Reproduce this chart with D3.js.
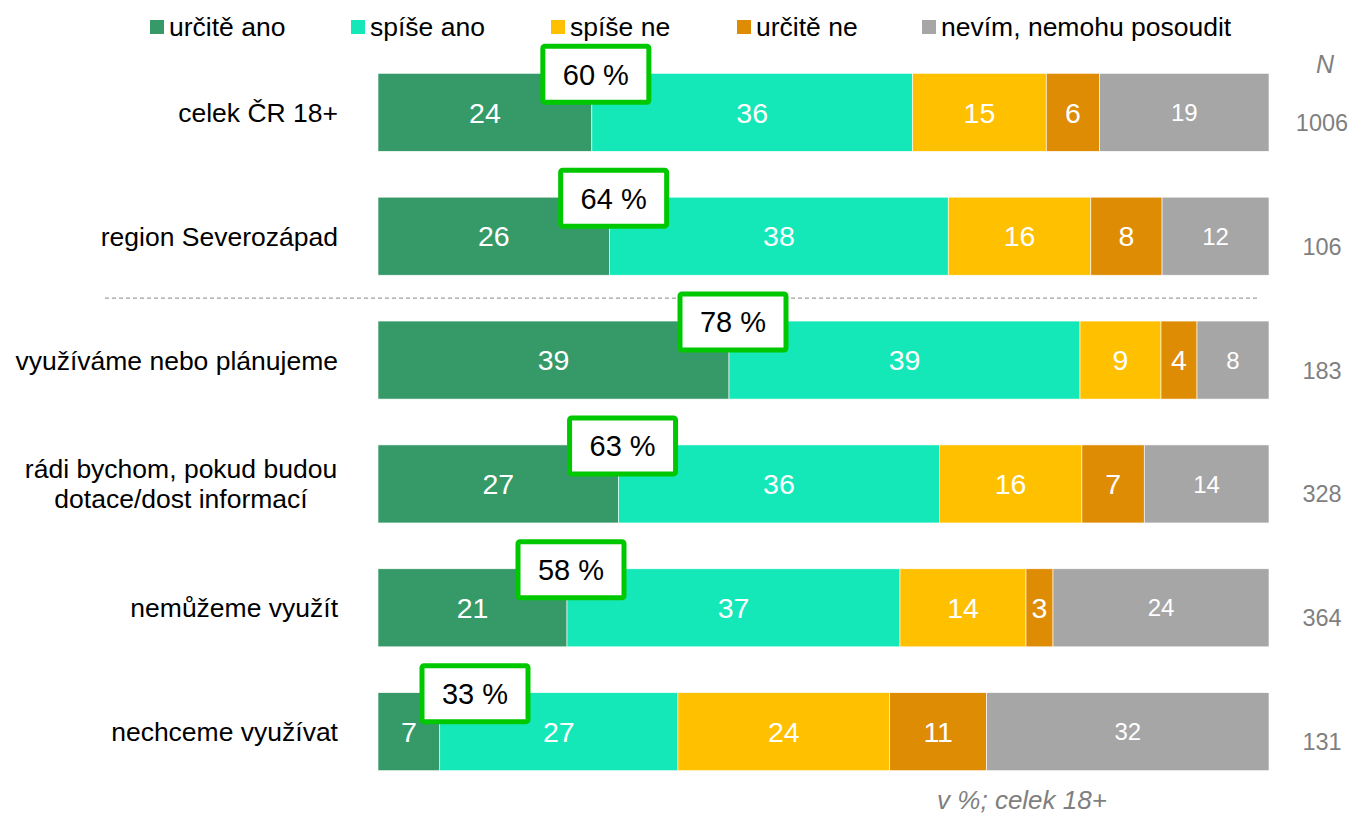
<!DOCTYPE html>
<html lang="cs">
<head>
<meta charset="UTF-8">
<title>Stacked bars</title>
<script src="https://d3js.org/d3.v7.min.js"></script>
<style>
  body { margin: 0; background: #fff; font-family: Arial, "Liberation Sans", sans-serif; }
  svg text { font-family: Arial, "Liberation Sans", sans-serif; }
</style>
</head>
<body>
<div id="chart"></div>
<script>
// categories (rows) and legend series
const categories = [
  ["celek ČR 18+"],
  ["region Severozápad"],
  ["využíváme nebo plánujeme"],
  ["rádi bychom, pokud budou", "dotace/dost informací"],
  ["nemůžeme využít"],
  ["nechceme využívat"]
];
const series = ["určitě ano", "spíše ano", "spíše ne", "určitě ne", "nevím, nemohu posoudit"];
const colors = ["#359a68", "#14e8b8", "#ffc000", "#df8c05", "#a6a6a6"];

// values per row (in %)
const urciteAno = [24, 26, 39, 27, 21, 7];
const spiseAno  = [36, 38, 39, 36, 37, 27];
const spiseNe   = [15, 16, 9, 16, 14, 24];
const urciteNe  = [6, 8, 4, 7, 3, 11];
const nevim     = [19, 12, 8, 14, 24, 32];
const yesTotal  = [60, 64, 78, 63, 58, 33];
const nCounts   = [1006, 106, 183, 328, 364, 131];

const W = 1352, H = 816;
const svg = d3.select("#chart").append("svg")
  .attr("width", W).attr("height", H);

const x = d3.scaleLinear().domain([0, 1]).range([378, 1269]);
const y = d3.scaleBand().domain(d3.range(categories.length))
  .range([51, 793]).paddingInner(0.37).paddingOuter(0.18);

const rows = categories.map((c, i) => {
  const vals = [urciteAno[i], spiseAno[i], spiseNe[i], urciteNe[i], nevim[i]];
  const sum = d3.sum(vals);
  let acc = 0;
  const segs = vals.map((v, k) => {
    const s = { k, v, x0: acc / sum, x1: (acc + v) / sum };
    acc += v;
    return s;
  });
  return { i, label: c, segs, yes: yesTotal[i], n: nCounts[i] };
});

// legend
const legendX = [150, 351, 551, 737, 922];
const legend = svg.append("g");
series.forEach((s, k) => {
  legend.append("rect").attr("x", legendX[k]).attr("y", 20)
    .attr("width", 14).attr("height", 14).attr("fill", colors[k]);
  legend.append("text").attr("x", legendX[k] + 19).attr("y", 36)
    .attr("font-size", 26.5).attr("fill", "#000").text(s);
});

// N header
svg.append("text").attr("x", 1325).attr("y", 73).attr("text-anchor", "middle")
  .attr("font-size", 25).attr("font-style", "italic").attr("fill", "#7f7f7f").text("N");

// separator
const sepY = (y(1) + y.bandwidth() + y(2)) / 2;
svg.append("line").attr("x1", 105).attr("x2", 1257).attr("y1", sepY).attr("y2", sepY)
  .attr("stroke", "#a0a0a0").attr("stroke-width", 1.2).attr("stroke-dasharray", "4,3");

const g = svg.append("g").selectAll("g").data(rows).join("g");

g.selectAll("rect").data(d => d.segs).join("rect")
  .attr("x", s => x(s.x0))
  .attr("width", s => x(s.x1) - x(s.x0))
  .attr("y", function () { return y(d3.select(this.parentNode).datum().i); })
  .attr("height", y.bandwidth())
  .attr("fill", s => colors[s.k])
  .attr("stroke", "#fff").attr("stroke-width", 0.6);

g.selectAll("text.val").data(d => d.segs).join("text")
  .attr("class", "val")
  .attr("x", s => (x(s.x0) + x(s.x1)) / 2)
  .attr("y", function () { return y(d3.select(this.parentNode).datum().i) + y.bandwidth() / 2; })
  .attr("dy", "0.36em")
  .attr("text-anchor", "middle")
  .attr("font-size", s => s.k === 4 ? 24 : 28.5)
  .attr("fill", "#fff")
  .text(s => s.v);

// category labels
g.each(function (d) {
  const cy = y(d.i) + y.bandwidth() / 2;
  const multi = d.label.length > 1;
  const t = d3.select(this).append("text")
    .attr("text-anchor", multi ? "middle" : "end")
    .attr("font-size", 26.5).attr("fill", "#000");
  const lh = 30;
  d.label.forEach((line, j) => {
    t.append("tspan").attr("x", multi ? 181 : 338)
      .attr("y", cy + (j - (d.label.length - 1) / 2) * lh)
      .attr("dy", "0.36em").text(line);
  });

  // N counts
  d3.select(this).append("text").attr("x", 1322).attr("y", cy + 10)
    .attr("dy", "0.36em").attr("text-anchor", "middle")
    .attr("font-size", 23.5).attr("fill", "#7f7f7f").text(d.n);

  // total yes box
  const bx = Math.max(x(d.segs[0].x1) + 4, x(0) + 97);
  const by = y(d.i) - 27;
  d3.select(this).append("rect")
    .attr("x", bx - 53).attr("y", by).attr("width", 106).attr("height", 56)
    .attr("rx", 2).attr("fill", "#fff").attr("stroke", "#00c800").attr("stroke-width", 5);
  d3.select(this).append("text")
    .attr("x", bx).attr("y", by + 28).attr("dy", "0.36em")
    .attr("text-anchor", "middle").attr("font-size", 29).attr("fill", "#000")
    .text(d.yes + " %");
});

// footer note
svg.append("text").attr("x", 1022).attr("y", 809).attr("text-anchor", "middle")
  .attr("font-size", 26).attr("font-style", "italic").attr("fill", "#7f7f7f")
  .text("v %; celek 18+");
</script>
</body>
</html>
